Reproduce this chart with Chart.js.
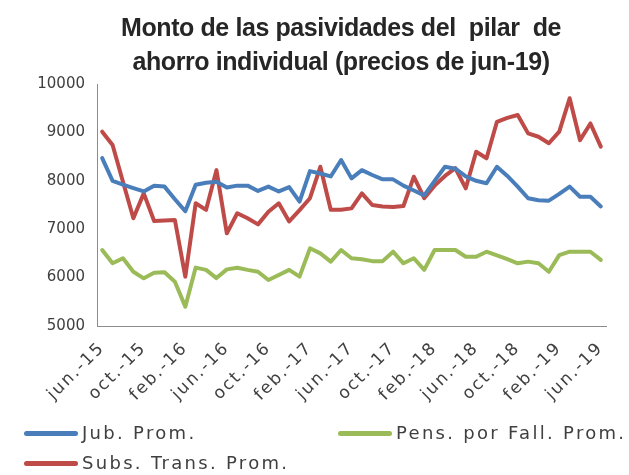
<!DOCTYPE html>
<html>
<head>
<meta charset="utf-8">
<script src="https://cdn.jsdelivr.net/npm/chart.js@4.4.1/dist/chart.umd.min.js"></script>
<style>
  body { margin: 0; background: #fff; }
  #wrap { position: relative; width: 629px; height: 475px; }
  #title {
    position: absolute; top: 10px; left: 341px; transform: translateX(-50%);
    font-family: "Liberation Sans", sans-serif;
    font-weight: bold; font-size: 25px; line-height: 34px; letter-spacing: -0.4px;
    color: #262626; text-align: center; white-space: pre;
  }
  .leg {
    position: absolute; height: 22px;
    font-family: "DejaVu Sans", sans-serif; font-size: 18px; letter-spacing: 2.3px;
    color: #404040; white-space: pre; line-height: 22px;
  }
  .leg span.sw {
    display: inline-block; width: 54px; height: 5px; border-radius: 3px;
    vertical-align: middle; margin-right: 4px; position: relative; top: -1px;
  }
</style>
</head>
<body>
<div id="wrap">
  <canvas id="myChart" width="629" height="475"></canvas>
  <div id="title">Monto de las pasividades del  pilar  de
ahorro individual (precios de jun-19)</div>
  <div class="leg" style="left:24px; top:422px;"><span class="sw" style="background:#4A7EBB"></span>Jub. Prom.</div>
  <div class="leg" style="left:338px; top:422px;"><span class="sw" style="background:#9BBB59"></span>Pens. por Fall. Prom.</div>
  <div class="leg" style="left:24px; top:452px;"><span class="sw" style="background:#BE4B48"></span>Subs. Trans. Prom.</div>
</div>
<script>
const months = [
  "jun.-15", "jul.-15", "ago.-15", "sept.-15", "oct.-15", "nov.-15", "dic.-15",
  "ene.-16", "feb.-16", "mar.-16", "abr.-16", "may.-16", "jun.-16", "jul.-16",
  "ago.-16", "sept.-16", "oct.-16", "nov.-16", "dic.-16", "ene.-17", "feb.-17",
  "mar.-17", "abr.-17", "may.-17", "jun.-17", "jul.-17", "ago.-17", "sept.-17",
  "oct.-17", "nov.-17", "dic.-17", "ene.-18", "feb.-18", "mar.-18", "abr.-18",
  "may.-18", "jun.-18", "jul.-18", "ago.-18", "sept.-18", "oct.-18", "nov.-18",
  "dic.-18", "ene.-19", "feb.-19", "mar.-19", "abr.-19", "may.-19", "jun.-19"
];

const jubProm = [
  8470, 8000, 7920, 7850, 7780, 7900, 7880, 7620, 7370, 7920,
  7960, 7980, 7860, 7900, 7900, 7790, 7880, 7780, 7870, 7570,
  8200, 8150, 8090, 8430, 8050, 8220, 8120, 8030, 8030, 7900,
  7800, 7700, 8000, 8290, 8250, 8090, 8000, 7950, 8290, 8100,
  7880, 7640, 7600, 7590, 7730, 7880, 7670, 7670, 7470
];

const subsTransProm = [
  9015, 8740, 7980, 7225, 7740, 7170, 7180, 7190, 6020, 7535,
  7400, 8220, 6915, 7330, 7225, 7100, 7360, 7535, 7160, 7395,
  7640, 8290, 7400, 7400, 7430, 7740, 7500, 7470, 7460, 7480,
  8085, 7640, 7900, 8100, 8260, 7845, 8600, 8465, 9220, 9300,
  9360, 8980, 8910, 8775, 9015, 9705, 8840, 9185, 8705
];

const pensFallProm = [
  6570, 6295, 6400, 6120, 5985, 6100, 6110, 5915, 5400, 6207,
  6160, 5990, 6170, 6205, 6160, 6120, 5950, 6055, 6160, 6020,
  6605, 6500, 6330, 6570, 6400, 6380, 6340, 6340, 6535, 6295,
  6400, 6160, 6570, 6570, 6570, 6430, 6430, 6535, 6460, 6380,
  6295, 6330, 6295, 6120, 6465, 6535, 6535, 6535, 6365
];

const yTicks = [5000, 6000, 7000, 8000, 9000, 10000];

const ctx = document.getElementById("myChart");

// x labels are spaced out like the excel original
const spacedLabels = {
  id: "spacedLabels",
  afterDatasetsDraw(chart) {
    chart.ctx.letterSpacing = "2px";
  },
  afterDraw(chart) {
    chart.ctx.letterSpacing = "0px";
  },
};

function lineSet(label, data, color) {
  return {
    label: label,
    data: data,
    borderColor: color,
    backgroundColor: color,
    borderWidth: 4,
    pointRadius: 0,
    tension: 0,
    borderJoinStyle: "round",
    borderCapStyle: "round",
  };
}

new Chart(ctx, {
  type: "line",
  data: {
    labels: months,
    datasets: [
      lineSet("Jub. Prom.", jubProm, "#4A7EBB"),
      lineSet("Pens. por Fall. Prom.", pensFallProm, "#9BBB59"),
      lineSet("Subs. Trans. Prom.", subsTransProm, "#BE4B48"),
    ],
  },
  plugins: [spacedLabels],
  options: {
    responsive: false,
    animation: false,
    layout: {
      padding: { top: 84, right: 23, left: 0, bottom: 0 },
    },
    plugins: {
      legend: { display: false },
      title: { display: false },
      tooltip: { enabled: false },
    },
    scales: {
      x: {
        offset: true,
        grid: { display: false, drawTicks: false },
        border: { display: true, color: "#8c8c8c", width: 1 },
        ticks: {
          z: 1,
          autoSkip: false,
          minRotation: 45,
          maxRotation: 45,
          padding: 12,
          color: "#404040",
          font: { family: "'DejaVu Sans'", size: 17 },
          callback: function (value, index) {
            return index % 4 === 0 ? months[index] : "";
          },
        },
        afterFit: function (scale) {
          scale.height = 149;
        },
      },
      y: {
        min: 5000,
        max: 10000,
        grid: { display: false, drawTicks: false },
        border: { display: true, color: "#8c8c8c", width: 1 },
        afterBuildTicks: function (scale) {
          scale.ticks = yTicks.map((v) => ({ value: v }));
        },
        ticks: {
          padding: 12,
          color: "#404040",
          font: { family: "'DejaVu Sans'", size: 15 },
          callback: function (value) {
            return String(value);
          },
        },
        afterFit: function (scale) {
          scale.width = 97;
        },
      },
    },
  },
});
</script>
</body>
</html>
